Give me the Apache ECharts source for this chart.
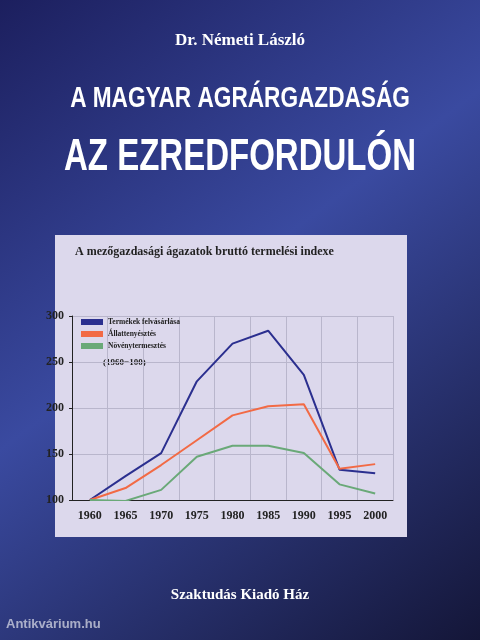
<!DOCTYPE html>
<html><head><meta charset="utf-8">
<script src="https://cdn.jsdelivr.net/npm/echarts@6/dist/echarts.min.js"></script>
<style>html,body{margin:0;padding:0;}#c{width:480px;height:640px;}</style>
</head><body><div id="c"></div>
<script>
// adatok
let years = ['1960','1965','1970','1975','1980','1985','1990','1995','2000'];
let termekek = [100, 126, 151, 229, 270, 284, 236, 133, 129];
let allat = [100, 113, 138, 165, 192, 202, 204, 134, 139];
let noveny = [100, 99, 111, 147, 159, 159, 151, 117, 107];

let myChart = echarts.init(document.getElementById('c'));

let option = {
    backgroundColor: {
        type: 'linear', x: 0, y: 0, x2: 1, y2: 1,
        colorStops: [
            {offset: 0, color: '#1c1f5e'},
            {offset: 0.45, color: '#3a4aa0'},
            {offset: 1, color: '#141638'}
        ]
    },
    color: ['#2b2f8f', '#f26a45', '#6aa978'],
    graphic: [
        {type: 'rect', shape: {x: 55, y: 235, width: 352, height: 302},
            style: {fill: '#dcd8ec'}, z: -10},
        {type: 'text', left: 'center', top: 32,
            style: {text: 'Dr. Németi László', fill: '#ffffff', font: 'bold 17px "Liberation Serif"'}},
        {type: 'text', x: 240, y: 84, scaleX: 0.78,
            style: {text: 'A MAGYAR AGRÁRGAZDASÁG', align: 'center', fill: '#ffffff', font: 'bold 29px "Liberation Sans"',
                shadowColor: '#000', shadowBlur: 4, shadowOffsetX: 2, shadowOffsetY: 2}},
        {type: 'text', x: 240, y: 136, scaleX: 0.75,
            style: {text: 'AZ EZREDFORDULÓN', align: 'center', fill: '#ffffff', font: 'bold 44px "Liberation Sans"',
                shadowColor: '#000', shadowBlur: 4, shadowOffsetX: 2, shadowOffsetY: 2}},
        {type: 'text', left: 75, top: 246,
            style: {text: 'A mezőgazdasági ágazatok bruttó termelési indexe', fill: '#222', font: 'bold 12px "Liberation Serif"'}},
        {type: 'text', left: 103, top: 358,
            style: {text: '(1960=100)', fill: '#222', font: 'bold 9px "Liberation Serif"'}},
        {type: 'text', left: 'center', top: 588,
            style: {text: 'Szaktudás Kiadó Ház', fill: '#ffffff', font: 'bold 15px "Liberation Serif"'}},
        {type: 'text', left: 6, top: 618,
            style: {text: 'Antikvárium.hu', fill: 'rgba(255,255,255,0.6)', font: 'bold 13px "Liberation Sans"'}}
    ],
    legend: {
        orient: 'vertical', left: 76, top: 313, itemWidth: 22, itemHeight: 6, itemGap: 4,
        icon: 'rect',
        textStyle: {color: '#222', fontSize: 7.5, fontFamily: 'Liberation Serif', fontWeight: 'bold'}
    },
    grid: {left: 72, right: 87, top: 316, bottom: 140},
    xAxis: {
        type: 'category', data: years, boundaryGap: true,
        axisLine: {lineStyle: {color: '#222'}},
        axisTick: {show: false},
        axisLabel: {color: '#222', fontSize: 12, fontWeight: 'bold', fontFamily: 'Liberation Serif', margin: 10},
        splitLine: {show: true, lineStyle: {color: '#b9b6cc'}}
    },
    yAxis: {
        type: 'value', min: 100, max: 300, interval: 50,
        axisLine: {show: true, lineStyle: {color: '#222'}},
        axisTick: {show: true, length: 3},
        axisLabel: {color: '#222', fontSize: 12, fontWeight: 'bold', fontFamily: 'Liberation Serif'},
        splitLine: {lineStyle: {color: '#b9b6cc'}}
    },
    series: [
        {name: 'Termékek felvásárlása', type: 'line', data: termekek, symbol: 'none', lineStyle: {width: 2}},
        {name: 'Állattenyésztés', type: 'line', data: allat, symbol: 'none', lineStyle: {width: 2}},
        {name: 'Növénytermesztés', type: 'line', data: noveny, symbol: 'none', lineStyle: {width: 2}}
    ]
};

myChart.setOption(option);
</script>
</body></html>
